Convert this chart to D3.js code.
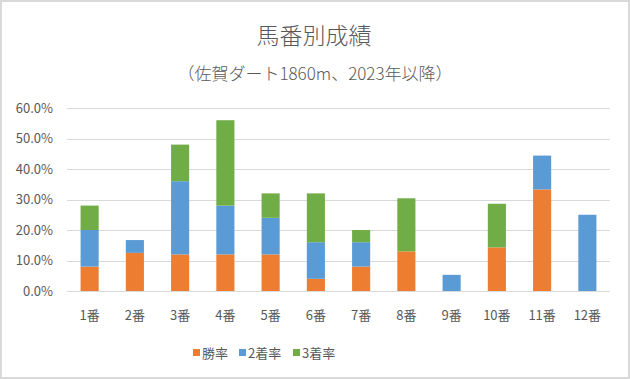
<!DOCTYPE html>
<html>
<head>
<meta charset="utf-8">
<script src="https://cdn.jsdelivr.net/npm/d3@7"></script>
<style>
  body { margin: 0; background: #fff; }
  text { font-family: "Noto Sans CJK JP", "Noto Sans", sans-serif; fill: #595959; }
</style>
</head>
<body>
<svg id="chart" width="630" height="379"></svg>
<script>
// chart data
const categories = ["1番", "2番", "3番", "4番", "5番", "6番", "7番", "8番", "9番", "10番", "11番", "12番"];
const winRate    = [8.0, 12.5, 12.0, 12.0, 12.0, 4.0, 8.0, 13.0, 0.0, 14.3, 33.3, 0.0];
const secondRate = [12.0, 4.2, 24.0, 16.0, 12.0, 12.0, 8.0, 0.0, 5.3, 0.0, 11.1, 25.0];
const thirdRate  = [8.0, 0.0, 12.0, 28.0, 8.0, 16.0, 4.0, 17.4, 0.0, 14.3, 0.0, 0.0];
const seriesNames = ["勝率", "2着率", "3着率"];
const yTicks = [0, 10, 20, 30, 40, 50, 60];
const colors = ["#ED7D31", "#5B9BD5", "#70AD47"];

const svg = d3.select("#chart");
const W = 630, H = 379;
const margin = { left: 67, right: 20, top: 108, bottom: 88 };

// outer border
svg.append("rect")
	.attr("x", 1).attr("y", 1)
	.attr("width", W - 2).attr("height", H - 2)
	.attr("fill", "#fff")
	.attr("stroke", "#d9d9d9")
	.attr("stroke-width", 2);

svg.append("text")
	.attr("x", 314).attr("y", 44)
	.attr("text-anchor", "middle")
	.style("font-size", "23px")
	.style("font-weight", 300)
	.text("馬番別成績");

svg.append("text")
	.attr("x", 315).attr("y", 80)
	.attr("text-anchor", "middle")
	.style("font-size", "17px")
	.style("font-weight", 300)
	.text("（佐賀ダート1860m、2023年以降）");

const x = d3.scaleBand()
	.domain(categories)
	.range([margin.left, W - margin.right])
	.paddingInner(0.6)
	.paddingOuter(0.3);

const y = d3.scaleLinear()
	.domain([0, 60])
	.range([H - margin.bottom, margin.top]);

// gridlines
svg.append("g")
	.selectAll("line")
	.data(yTicks)
	.join("line")
		.attr("x1", margin.left).attr("x2", W - margin.right)
		.attr("y1", d => Math.round(y(d)) + 0.5)
		.attr("y2", d => Math.round(y(d)) + 0.5)
		.attr("stroke", "#d9d9d9");

// y labels
svg.append("g")
	.selectAll("text")
	.data(yTicks)
	.join("text")
		.attr("x", 53)
		.attr("y", d => y(d))
		.attr("dy", "0.35em")
		.attr("text-anchor", "end")
		.style("font-size", "13px")
		.text(d => d.toFixed(1) + "%");

// stacked bars
const rows = categories.map((c, i) => ({ cat: c, s0: winRate[i], s1: secondRate[i], s2: thirdRate[i] }));
const stack = d3.stack().keys(["s0", "s1", "s2"])(rows);

svg.append("g")
	.selectAll("g")
	.data(stack)
	.join("g")
		.attr("fill", (d, i) => colors[i])
	.selectAll("rect")
	.data(d => d)
	.join("rect")
		.attr("x", d => x(d.data.cat))
		.attr("width", x.bandwidth())
		.attr("y", d => y(d[1]))
		.attr("height", d => y(d[0]) - y(d[1]));

// x labels
svg.append("g")
	.selectAll("text")
	.data(categories)
	.join("text")
		.attr("x", d => x(d) + x.bandwidth() / 2)
		.attr("y", 315)
		.attr("dy", "0.35em")
		.attr("text-anchor", "middle")
		.style("font-size", "13px")
		.text(d => d);

// legend
const legendX = [193, 239, 293];
const legend = svg.append("g")
	.selectAll("g")
	.data(seriesNames)
	.join("g")
		.attr("transform", (d, i) => "translate(" + legendX[i] + ",353)");
legend.append("rect")
	.attr("x", 0).attr("y", -4)
	.attr("width", 7).attr("height", 7)
	.attr("fill", (d, i) => colors[i]);
legend.append("text")
	.attr("x", 9)
	.attr("dy", "0.35em")
	.style("font-size", "13px")
	.text(d => d);
</script>
</body>
</html>
